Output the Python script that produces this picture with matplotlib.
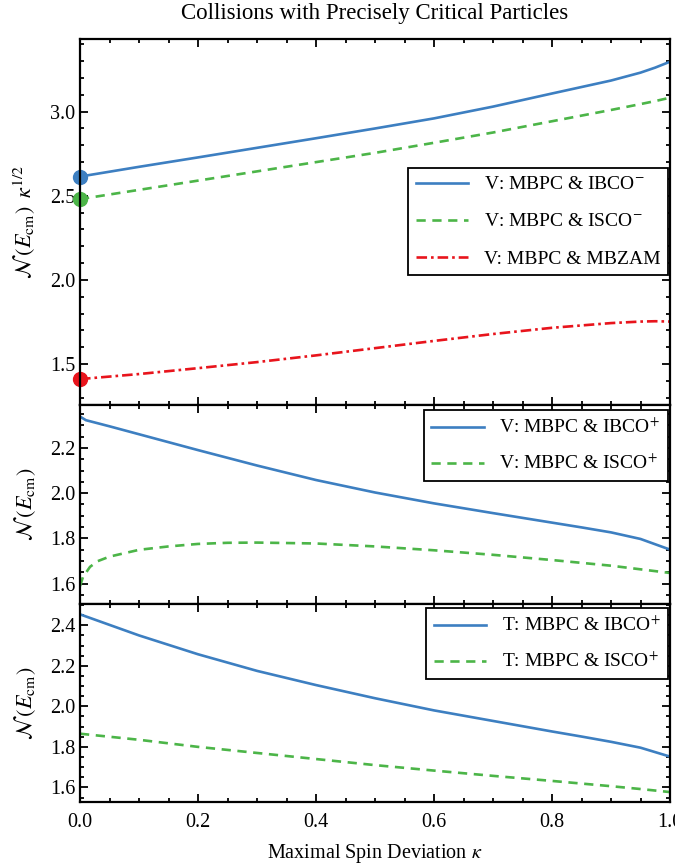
import numpy as np
import matplotlib
matplotlib.use("Agg")
import matplotlib.pyplot as plt
from matplotlib.ticker import MultipleLocator

plt.rcParams['font.family'] = ['Liberation Serif', 'DejaVu Serif']
plt.rcParams['mathtext.fontset'] = 'stix'

# values
kappa = [0.0, 0.1, 0.2, 0.3, 0.4, 0.5, 0.6, 0.7, 0.8, 0.9, 0.95, 0.975, 1.0]

# top panel: N(Ecm) * kappa^(1/2)
v_ibco_minus = [2.614, 2.672, 2.728, 2.785, 2.842, 2.900, 2.960, 3.030, 3.108, 3.185, 3.232, 3.262, 3.297]
v_isco_minus = [2.480, 2.535, 2.590, 2.645, 2.700, 2.755, 2.815, 2.876, 2.943, 3.010, 3.045, 3.063, 3.083]
v_mbzam = [1.410, 1.440, 1.475, 1.511, 1.551, 1.594, 1.637, 1.678, 1.715, 1.743, 1.752, 1.754, 1.752]
start_points = [2.614, 2.480, 1.410]

# middle panel (V, plus branch)
kappa_mid_blue = [0.0, 0.01, 0.05, 0.1, 0.2, 0.3, 0.4, 0.5, 0.6, 0.7, 0.8, 0.85, 0.9, 0.95, 1.0]
v_ibco_plus = [2.338, 2.322, 2.295, 2.260, 2.190, 2.122, 2.058, 2.003, 1.955, 1.912, 1.870,
               1.849, 1.827, 1.798, 1.751]
kappa_mid_green = [0.0, 0.005, 0.017, 0.03, 0.05, 0.1, 0.15, 0.2, 0.25, 0.3, 0.4, 0.5,
                   0.6, 0.7, 0.8, 0.9, 1.0]
v_isco_plus = [1.590, 1.630, 1.675, 1.700, 1.720, 1.750, 1.765, 1.776, 1.781, 1.782, 1.778,
               1.765, 1.748, 1.728, 1.705, 1.680, 1.648]

# bottom panel (T, plus branch)
kappa_bot = [0.0, 0.1, 0.2, 0.3, 0.4, 0.5, 0.6, 0.7, 0.8, 0.85, 0.9, 0.95, 1.0]
t_ibco_plus = [2.454, 2.350, 2.257, 2.175, 2.105, 2.040, 1.980, 1.928, 1.876, 1.851, 1.825,
               1.796, 1.752]
t_isco_plus = [1.865, 1.835, 1.800, 1.770, 1.740, 1.710, 1.683, 1.657, 1.632, 1.619, 1.606,
               1.592, 1.577]

blue = '#3d7fc1'
green = '#4cb548'
red = '#e8141c'
lw = 1.9
dash = (0, (3.5, 2.5))
dashdot = (0, (4, 1.5, 1, 1.5))

fig = plt.figure(figsize=(6.75, 8.67), dpi=100)
left, width = 80 / 675, 590 / 675
ax1 = fig.add_axes([left, 1 - 405 / 867, width, 366 / 867])
ax2 = fig.add_axes([left, 1 - 604 / 867, width, 199 / 867])
ax3 = fig.add_axes([left, 1 - 802 / 867, width, 198 / 867])


def style(ax, ymaj, ymin):
    ax.set_xlim(0, 1)
    ax.xaxis.set_major_locator(MultipleLocator(0.2))
    ax.xaxis.set_minor_locator(MultipleLocator(0.05))
    ax.yaxis.set_major_locator(MultipleLocator(ymaj))
    ax.yaxis.set_minor_locator(MultipleLocator(ymin))
    ax.tick_params(which='both', direction='in', top=True, right=True, labelsize=14.5, width=1.3)
    ax.tick_params(which='major', length=6)
    ax.tick_params(which='minor', length=3)
    for s in ax.spines.values():
        s.set_linewidth(1.6)


def add_legend(ax, ytop, spacing):
    leg = ax.legend(loc='upper right', bbox_to_anchor=(0.997, ytop), borderaxespad=0,
                    fontsize=14, fancybox=False, edgecolor='black', framealpha=1,
                    handlelength=2.7, labelspacing=spacing)
    leg.get_frame().set_linewidth(1.3)


ax1.plot(kappa, v_ibco_minus, color=blue, lw=lw, label='V: MBPC & IBCO$^{-}$')
ax1.plot(kappa, v_isco_minus, color=green, lw=lw, ls=dash, label='V: MBPC & ISCO$^{-}$')
ax1.plot(kappa, v_mbzam, color=red, lw=lw, ls=dashdot, label='V: MBPC & MBZAM')
for yv, c in zip(start_points, [blue, green, red]):
    ax1.plot([0], [yv], 'o', color=c, ms=10, clip_on=False, zorder=2)
ax1.set_ylim(1.256, 3.432)
style(ax1, 0.5, 0.1)
ax1.tick_params(labelbottom=False)
ax1.set_ylabel(r'$\mathcal{N}\,(E_{\mathrm{cm}})\;\;\kappa^{1/2}$', fontsize=16)
add_legend(ax1, 0.6475, 1.0)

ax2.plot(kappa_mid_blue, v_ibco_plus, color=blue, lw=lw, label='V: MBPC & IBCO$^{+}$')
ax2.plot(kappa_mid_green, v_isco_plus, color=green, lw=lw, ls=dash, label='V: MBPC & ISCO$^{+}$')
ax2.set_ylim(1.511, 2.389)
style(ax2, 0.2, 0.05)
ax2.tick_params(labelbottom=False)
ax2.set_ylabel(r'$\mathcal{N}\,(E_{\mathrm{cm}})$', fontsize=16)
add_legend(ax2, 0.975, 0.85)

ax3.plot(kappa_bot, t_ibco_plus, color=blue, lw=lw, label='T: MBPC & IBCO$^{+}$')
ax3.plot(kappa_bot, t_isco_plus, color=green, lw=lw, ls=dash, label='T: MBPC & ISCO$^{+}$')
ax3.set_ylim(1.528, 2.505)
style(ax3, 0.2, 0.05)
ax3.tick_params(axis='x', pad=8)
ax3.set_ylabel(r'$\mathcal{N}\,(E_{\mathrm{cm}})$', fontsize=16)
ax3.set_xlabel(r'Maximal Spin Deviation $\kappa$', fontsize=14.5, labelpad=7)
add_legend(ax3, 0.98, 0.85)

fig.text(left + width / 2, 1 - 14 / 867, 'Collisions with Precisely Critical Particles',
         ha='center', va='center', fontsize=16.5)
for ax in (ax1, ax2, ax3):
    ax.yaxis.set_label_coords(-0.072, 0.5)

fig.savefig('out.png', dpi=100)
